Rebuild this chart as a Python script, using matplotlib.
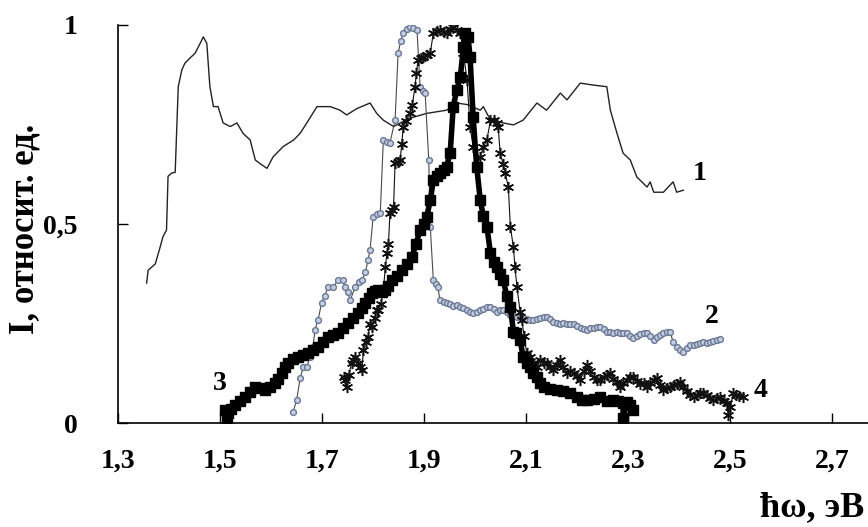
import matplotlib
matplotlib.use("Agg")
import matplotlib.pyplot as plt

# spectrum 1: thin solid line
x1 = [1.356, 1.359, 1.373, 1.382, 1.388, 1.395, 1.398, 1.405, 1.412, 1.418,
      1.425, 1.431, 1.441, 1.451, 1.461, 1.467, 1.474, 1.480, 1.487, 1.496,
      1.506, 1.520, 1.533, 1.545, 1.559, 1.569, 1.578, 1.592, 1.604, 1.624,
      1.644, 1.657, 1.670, 1.690, 1.716, 1.735, 1.748, 1.768, 1.794, 1.807,
      1.820, 1.840, 1.870, 1.905, 1.944, 1.964, 1.985, 2.010, 2.016, 2.030,
      2.055, 2.075, 2.094, 2.121, 2.140, 2.167, 2.180, 2.206, 2.232, 2.258,
      2.265, 2.278, 2.290, 2.304, 2.317, 2.337, 2.343, 2.350, 2.369, 2.388,
      2.395, 2.408]
y1 = [0.352, 0.384, 0.400, 0.440, 0.468, 0.485, 0.620, 0.628, 0.630, 0.845,
      0.887, 0.904, 0.917, 0.929, 0.954, 0.970, 0.954, 0.845, 0.795, 0.795,
      0.754, 0.745, 0.754, 0.728, 0.711, 0.661, 0.652, 0.640, 0.669, 0.695,
      0.711, 0.728, 0.754, 0.795, 0.795, 0.786, 0.774, 0.790, 0.804, 0.778,
      0.761, 0.745, 0.765, 0.778, 0.786, 0.804, 0.800, 0.786, 0.795, 0.761,
      0.754, 0.749, 0.761, 0.804, 0.786, 0.829, 0.812, 0.854, 0.849, 0.845,
      0.786, 0.728, 0.678, 0.661, 0.618, 0.593, 0.606, 0.580, 0.580, 0.606,
      0.580, 0.585]

# spectrum 2: open circles
x2 = [1.643, 1.650, 1.657, 1.663, 1.670, 1.676, 1.682, 1.686, 1.692, 1.699,
      1.705, 1.712, 1.722, 1.731, 1.740, 1.745, 1.750, 1.755, 1.765, 1.772,
      1.778, 1.785, 1.790, 1.794, 1.800, 1.807, 1.814, 1.820, 1.827, 1.833,
      1.843, 1.849, 1.854, 1.859, 1.866, 1.872, 1.879, 1.886, 1.892, 1.897,
      1.902, 1.909, 1.912, 1.918, 1.923, 1.927, 1.931, 1.938, 1.944, 1.951,
      1.957, 1.964, 1.971, 1.977, 1.984, 1.990, 1.996, 2.003, 2.010, 2.016,
      2.023, 2.030, 2.036, 2.042, 2.049, 2.055, 2.062, 2.069, 2.075, 2.082,
      2.088, 2.094, 2.101, 2.108, 2.114, 2.121, 2.127, 2.134, 2.140, 2.147,
      2.153, 2.160, 2.167, 2.173, 2.180, 2.186, 2.193, 2.200, 2.207, 2.213,
      2.220, 2.226, 2.232, 2.239, 2.245, 2.252, 2.258, 2.265, 2.271, 2.278,
      2.284, 2.290, 2.297, 2.304, 2.310, 2.317, 2.324, 2.330, 2.337, 2.343,
      2.350, 2.356, 2.363, 2.369, 2.376, 2.382, 2.388, 2.395, 2.402, 2.408,
      2.415, 2.421, 2.428, 2.434, 2.441, 2.447, 2.454, 2.460, 2.467, 2.474,
      2.480]
y2 = [0.028, 0.058, 0.113, 0.141, 0.141, 0.166, 0.191, 0.234, 0.259, 0.302,
      0.320, 0.342, 0.342, 0.359, 0.359, 0.342, 0.330, 0.309, 0.342, 0.355,
      0.359, 0.380, 0.410, 0.435, 0.518, 0.525, 0.528, 0.711, 0.706, 0.704,
      0.761, 0.930, 0.960, 0.980, 0.990, 0.995, 0.993, 0.987, 0.845, 0.835,
      0.829, 0.661, 0.493, 0.359, 0.350, 0.342, 0.309, 0.305, 0.302, 0.300,
      0.295, 0.297, 0.291, 0.289, 0.285, 0.280, 0.276, 0.280, 0.284, 0.287,
      0.291, 0.291, 0.286, 0.280, 0.284, 0.284, 0.278, 0.272, 0.270, 0.267,
      0.267, 0.263, 0.262, 0.259, 0.259, 0.262, 0.265, 0.267, 0.267, 0.262,
      0.255, 0.252, 0.250, 0.252, 0.248, 0.250, 0.250, 0.245, 0.238, 0.236,
      0.234, 0.238, 0.240, 0.242, 0.242, 0.236, 0.230, 0.228, 0.226, 0.228,
      0.226, 0.226, 0.226, 0.218, 0.213, 0.220, 0.224, 0.226, 0.226, 0.218,
      0.209, 0.216, 0.222, 0.226, 0.229, 0.229, 0.205, 0.192, 0.185, 0.178,
      0.190, 0.196, 0.196, 0.198, 0.201, 0.203, 0.201, 0.205, 0.207, 0.209,
      0.211]

# spectrum 3: filled squares, thick line
x3 = [1.510, 1.513, 1.516, 1.522, 1.529, 1.539, 1.549, 1.559, 1.569, 1.578,
      1.588, 1.598, 1.608, 1.614, 1.621, 1.627, 1.633, 1.643, 1.653, 1.663,
      1.673, 1.683, 1.692, 1.702, 1.712, 1.722, 1.731, 1.741, 1.751, 1.761,
      1.771, 1.778, 1.784, 1.791, 1.797, 1.804, 1.810, 1.817, 1.824, 1.830,
      1.837, 1.846, 1.856, 1.866, 1.876, 1.884, 1.892, 1.899, 1.905, 1.912,
      1.918, 1.925, 1.931, 1.938, 1.944, 1.951, 1.957, 1.964, 1.971, 1.977,
      1.980, 1.986, 1.990, 1.996, 2.003, 2.010, 2.016, 2.023, 2.030, 2.036,
      2.042, 2.049, 2.055, 2.062, 2.069, 2.075, 2.081, 2.088, 2.094, 2.101,
      2.108, 2.114, 2.121, 2.127, 2.134, 2.147, 2.160, 2.173, 2.186, 2.200,
      2.210, 2.220, 2.232, 2.245, 2.258, 2.271, 2.280, 2.290, 2.290, 2.297,
      2.304, 2.310]
y3 = [0.033, 0.008, 0.025, 0.035, 0.045, 0.055, 0.065, 0.078, 0.090, 0.088,
      0.083, 0.090, 0.100, 0.110, 0.126, 0.140, 0.151, 0.160, 0.166, 0.172,
      0.176, 0.185, 0.191, 0.205, 0.216, 0.222, 0.226, 0.240, 0.251, 0.265,
      0.276, 0.290, 0.302, 0.315, 0.327, 0.332, 0.334, 0.330, 0.334, 0.345,
      0.359, 0.370, 0.384, 0.400, 0.417, 0.450, 0.485, 0.500, 0.518, 0.560,
      0.610, 0.620, 0.628, 0.636, 0.644, 0.678, 0.795, 0.837, 0.870, 0.945,
      0.980, 0.970, 0.920, 0.769, 0.644, 0.560, 0.520, 0.493, 0.427, 0.405,
      0.392, 0.375, 0.359, 0.320, 0.291, 0.230, 0.226, 0.210, 0.166, 0.150,
      0.140, 0.126, 0.115, 0.100, 0.090, 0.085, 0.083, 0.080, 0.075, 0.065,
      0.058, 0.058, 0.060, 0.065, 0.055, 0.058, 0.055, 0.050, 0.013, 0.053,
      0.045, 0.033]

# spectrum 4: asterisks
x4 = [1.742, 1.745, 1.748, 1.752, 1.758, 1.761, 1.765, 1.771, 1.774, 1.778,
      1.781, 1.786, 1.790, 1.794, 1.797, 1.803, 1.807, 1.810, 1.815, 1.820,
      1.824, 1.827, 1.830, 1.833, 1.837, 1.840, 1.843, 1.848, 1.853, 1.856,
      1.859, 1.865, 1.872, 1.877, 1.882, 1.885, 1.888, 1.893, 1.898, 1.905,
      1.912, 1.918, 1.925, 1.931, 1.938, 1.944, 1.951, 1.957, 1.964, 1.971,
      1.977, 1.984, 1.990, 1.996, 2.003, 2.010, 2.016, 2.023, 2.030, 2.036,
      2.042, 2.045, 2.049, 2.055, 2.059, 2.065, 2.069, 2.075, 2.078, 2.082,
      2.088, 2.091, 2.096, 2.101, 2.108, 2.114, 2.121, 2.127, 2.134, 2.140,
      2.147, 2.153, 2.160, 2.167, 2.173, 2.180, 2.186, 2.193, 2.200, 2.206,
      2.213, 2.220, 2.226, 2.232, 2.239, 2.245, 2.252, 2.258, 2.265, 2.271,
      2.278, 2.284, 2.290, 2.297, 2.304, 2.310, 2.317, 2.324, 2.330, 2.337,
      2.343, 2.350, 2.356, 2.363, 2.369, 2.376, 2.382, 2.389, 2.395, 2.402,
      2.408, 2.415, 2.421, 2.428, 2.434, 2.441, 2.447, 2.454, 2.460, 2.467,
      2.474, 2.480, 2.487, 2.493, 2.496, 2.500, 2.506, 2.512, 2.518, 2.525]
y4 = [0.116, 0.108, 0.090, 0.120, 0.151, 0.158, 0.166, 0.150, 0.141, 0.133,
      0.183, 0.205, 0.216, 0.250, 0.241, 0.265, 0.284, 0.284, 0.300, 0.334,
      0.392, 0.427, 0.450, 0.528, 0.535, 0.543, 0.653, 0.657, 0.661, 0.700,
      0.745, 0.760, 0.778, 0.800, 0.845, 0.880, 0.912, 0.916, 0.920, 0.925,
      0.929, 0.980, 0.985, 0.987, 0.982, 0.980, 0.990, 0.995, 0.988, 0.980,
      0.930, 0.862, 0.745, 0.694, 0.644, 0.669, 0.694, 0.711, 0.761, 0.761,
      0.755, 0.745, 0.678, 0.650, 0.628, 0.593, 0.493, 0.442, 0.392, 0.342,
      0.280, 0.260, 0.220, 0.176, 0.165, 0.150, 0.141, 0.158, 0.150, 0.151,
      0.140, 0.133, 0.145, 0.158, 0.140, 0.126, 0.130, 0.126, 0.118, 0.108,
      0.130, 0.146, 0.130, 0.115, 0.108, 0.108, 0.116, 0.120, 0.126, 0.112,
      0.104, 0.090, 0.100, 0.108, 0.116, 0.116, 0.105, 0.098, 0.100, 0.090,
      0.100, 0.108, 0.113, 0.095, 0.083, 0.088, 0.090, 0.095, 0.098, 0.103,
      0.092, 0.080, 0.070, 0.065, 0.070, 0.075, 0.075, 0.070, 0.062, 0.058,
      0.062, 0.065, 0.055, 0.050, 0.020, 0.040, 0.075, 0.070, 0.068, 0.065]

x_ticks = [1.3, 1.5, 1.7, 1.9, 2.1, 2.3, 2.5, 2.7]
x_tick_labels = ["1,3", "1,5", "1,7", "1,9", "2,1", "2,3", "2,5", "2,7"]
y_ticks = [0, 0.5, 1]
y_tick_labels = ["0", "0,5", "1"]

curve_labels = ["1", "2", "3", "4"]
label_x = [2.441, 2.463, 1.500, 2.559]
label_y = [0.628, 0.267, 0.100, 0.083]

plt.rcParams["font.family"] = ["Liberation Serif", "DejaVu Serif"]
plt.rcParams["font.weight"] = "bold"

fig = plt.figure(figsize=(8.68, 5.27), dpi=100)
ax = fig.add_axes([0.136, 0.197, 0.864, 0.7556])

ax.plot(x1, y1, color="#222222", lw=1.0)
ax.plot(x2, y2, color="#4a4a4a", lw=0.8, marker="o", ms=4.2,
        mfc="#c4cee2", mec="#6b7893", mew=1.0)
ax.plot(x4, y4, color="#111111", lw=0.8, marker=(6, 2, 0), ms=8, mew=1.1)
ax.plot(x3, y3, color="black", lw=4.0, marker="s", ms=7)

for t, lx, ly in zip(curve_labels, label_x, label_y):
    ax.text(lx, ly, t, fontsize=20, fontweight="bold", ha="center", va="center")

ax.set_xlim(1.3, 2.77)
ax.set_ylim(0, 1)
ax.set_xticks(x_ticks)
ax.set_xticklabels(x_tick_labels)
ax.set_yticks(y_ticks)
ax.set_yticklabels(y_tick_labels)
ax.tick_params(direction="in", length=7, width=1.0, labelsize=20)
ax.tick_params(axis="x", pad=18)
ax.tick_params(axis="y", pad=29)

for side in ("top", "right"):
    ax.spines[side].set_visible(False)
for side in ("left", "bottom"):
    ax.spines[side].set_linewidth(1.2)

fig.text(25 / 868, 1 - 229 / 527, "I, относит. ед.", rotation=90,
         fontsize=25, fontweight="bold", ha="center", va="center")
fig.text(864 / 868, 1 - 508 / 527, "ħω, эВ", fontsize=26,
         fontweight="bold", ha="right", va="center")

fig.savefig("out.png", dpi=100)
